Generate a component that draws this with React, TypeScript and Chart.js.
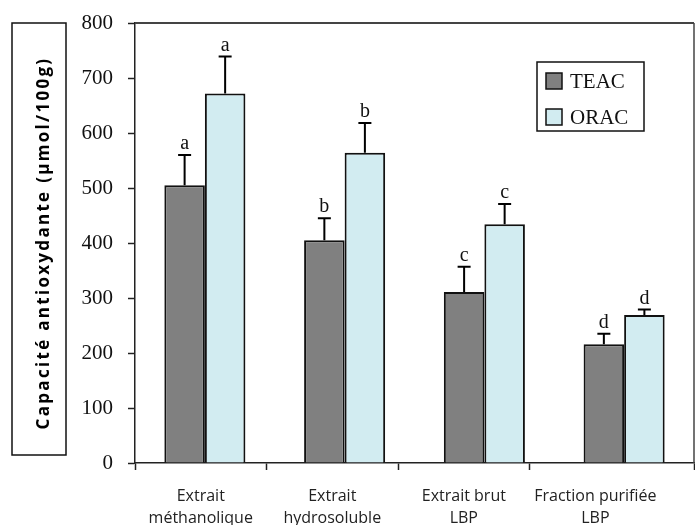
import React, { useEffect, useRef } from "react";
import { Chart, registerables } from "chart.js";

Chart.register(...registerables);

// ---- data ----
const categories: string[][] = [
  ["Extrait", "méthanolique"],
  ["Extrait", "hydrosoluble"],
  ["Extrait brut", "LBP"],
  ["Fraction purifiée", "LBP"],
];
const seriesNames = ["TEAC", "ORAC"];
const teacValues = [505, 405, 311, 216];
const teacErrors = [55, 40, 46, 19];
const teacLetters = ["a", "b", "c", "d"];
const oracValues = [672, 564, 434, 269];
const oracErrors = [67, 54, 37, 10];
const oracLetters = ["a", "b", "c", "d"];
const yMin = 0;
const yMax = 800;
const yStep = 100;
const yTitle = "Capacité antioxydante (µmol/100g)";

// label axis (labels are spaced a little differently from the bars in the reference)
const labelPositions = [0.5, 1.5, 2.5, 3.5];
const labelAxisMax = 4.25;
const labelTickMarks = [0, 1, 2, 3, labelAxisMax];

const seriesColors = ["#808080", "#d2ecf1"];
const SERIF = "'Liberation Serif', 'Times New Roman', serif";
const SANS = "'Open Sans', 'Noto Sans', sans-serif";

const decorPlugin = {
  id: "decor",
  afterDatasetsDraw(chart: any) {
    const ctx = chart.ctx;
    const y = chart.scales.y;
    ctx.save();
    chart.data.datasets.forEach((ds: any, i: number) => {
      const meta = chart.getDatasetMeta(i);
      meta.data.forEach((bar: any, j: number) => {
        const v = ds.data[j];
        const e = ds.errors[j];
        const yBar = y.getPixelForValue(v);
        const yTop = y.getPixelForValue(v + e);
        ctx.strokeStyle = "#000";
        ctx.lineWidth = 2;
        ctx.beginPath();
        ctx.moveTo(bar.x, yBar);
        ctx.lineTo(bar.x, yTop);
        ctx.moveTo(bar.x - 6.5, yTop);
        ctx.lineTo(bar.x + 6.5, yTop);
        ctx.stroke();
        ctx.fillStyle = "#111";
        ctx.font = `20px ${SERIF}`;
        ctx.textAlign = "center";
        ctx.textBaseline = "alphabetic";
        ctx.fillText(ds.letters[j], bar.x, yTop - 6);
      });
    });
    ctx.restore();
  },
  afterDraw(chart: any) {
    const ctx = chart.ctx;
    const a = chart.chartArea;
    ctx.save();
    // top and right frame
    ctx.strokeStyle = "#444";
    ctx.lineWidth = 2;
    ctx.beginPath();
    ctx.moveTo(a.left, a.top);
    ctx.lineTo(a.right, a.top);
    ctx.stroke();
    ctx.lineWidth = 1.5;
    ctx.beginPath();
    ctx.moveTo(a.right, a.top);
    ctx.lineTo(a.right, a.bottom);
    ctx.stroke();

    // y title box + title
    const boxTop = a.top;
    const boxBottom = a.bottom - 8;
    ctx.strokeStyle = "#111";
    ctx.lineWidth = 1.5;
    ctx.strokeRect(12, boxTop, 54, boxBottom - boxTop);
    ctx.save();
    ctx.translate(44, (a.top + a.bottom) / 2);
    ctx.rotate(-Math.PI / 2);
    ctx.fillStyle = "#000";
    ctx.font = `bold 17px ${SANS}`;
    (ctx as any).letterSpacing = "2.3px";
    ctx.textAlign = "center";
    ctx.textBaseline = "middle";
    ctx.fillText(yTitle, 0, 0);
    ctx.restore();

    // legend
    const lx = a.right - 157;
    const ly = a.top + 39;
    ctx.lineWidth = 1.5;
    ctx.strokeStyle = "#111";
    ctx.strokeRect(lx, ly, 107, 69);
    chart.data.datasets.forEach((ds: any, i: number) => {
      const cy = ly + 19 + i * 36;
      ctx.fillStyle = ds.backgroundColor;
      ctx.fillRect(lx + 9, cy - 8, 16, 16);
      ctx.lineWidth = 1.5;
      ctx.strokeStyle = "#111";
      ctx.strokeRect(lx + 9, cy - 8, 16, 16);
      ctx.fillStyle = "#111";
      ctx.font = `21px ${SERIF}`;
      ctx.textAlign = "left";
      ctx.textBaseline = "middle";
      ctx.fillText(ds.label, lx + 33, cy + 1);
    });
    ctx.restore();
  },
};

export default function App() {
  const ref = useRef<HTMLCanvasElement | null>(null);

  useEffect(() => {
    if (!ref.current) return;
    const chart = new Chart(ref.current, {
      type: "bar",
      data: {
        labels: categories.map((c) => c.join(" ")),
        datasets: [
          {
            label: seriesNames[0],
            data: teacValues,
            errors: teacErrors,
            letters: teacLetters,
            backgroundColor: seriesColors[0],
            borderColor: "#111",
            borderWidth: 2,
            categoryPercentage: 0.58,
            barPercentage: 1.0,
          } as any,
          {
            label: seriesNames[1],
            data: oracValues,
            errors: oracErrors,
            letters: oracLetters,
            backgroundColor: seriesColors[1],
            borderColor: "#111",
            borderWidth: 2,
            categoryPercentage: 0.58,
            barPercentage: 1.0,
          } as any,
        ],
      },
      options: {
        animation: false,
        responsive: true,
        maintainAspectRatio: false,
        layout: { padding: { top: 23, right: 1, left: 0, bottom: 0 } },
        plugins: {
          legend: { display: false },
          tooltip: { enabled: false },
        },
        scales: {
          x: { display: false, offset: true },
          xl: {
            type: "linear",
            position: "bottom",
            min: 0,
            max: labelAxisMax,
            offset: false,
            afterBuildTicks: (s: any) => {
              const vals = [...labelTickMarks, ...labelPositions].sort((p, q) => p - q);
              s.ticks = vals.map((v) => ({ value: v }));
            },
            afterFit: (s: any) => {
              s.height = 62;
              s.paddingLeft = 0;
              s.paddingRight = 0;
            },
            ticks: {
              autoSkip: false,
              maxRotation: 0,
              minRotation: 0,
              padding: 15,
              color: "#222",
              font: { family: SANS, size: 16, lineHeight: 1.4 },
              callback: (v: any) => {
                const idx = labelPositions.indexOf(Number(v));
                return idx >= 0 ? categories[idx] : "";
              },
            },
            grid: {
              offset: false,
              drawOnChartArea: false,
              tickLength: 7,
              tickWidth: 1.5,
              tickColor: (c: any) =>
                c.tick && labelTickMarks.includes(c.tick.value) ? "#222" : "rgba(0,0,0,0)",
            },
            border: { color: "#222", width: 1.5 },
          } as any,
          y: {
            min: yMin,
            max: yMax,
            afterFit: (s: any) => {
              s.width = 135;
              s.paddingTop = 0;
              s.paddingBottom = 0;
            },
            ticks: {
              stepSize: yStep,
              padding: 15,
              color: "#111",
              font: { family: SERIF, size: 21 },
            },
            grid: {
              drawOnChartArea: false,
              tickLength: 7,
              tickWidth: 1.5,
              tickColor: "#222",
            },
            border: { color: "#222", width: 1.5 },
          },
        },
      },
      plugins: [decorPlugin],
    });
    return () => chart.destroy();
  }, []);

  return (
    <div style={{ position: "fixed", left: 0, top: 0, width: 695, height: 525, background: "#fff" }}>
      <canvas ref={ref} />
    </div>
  );
}
